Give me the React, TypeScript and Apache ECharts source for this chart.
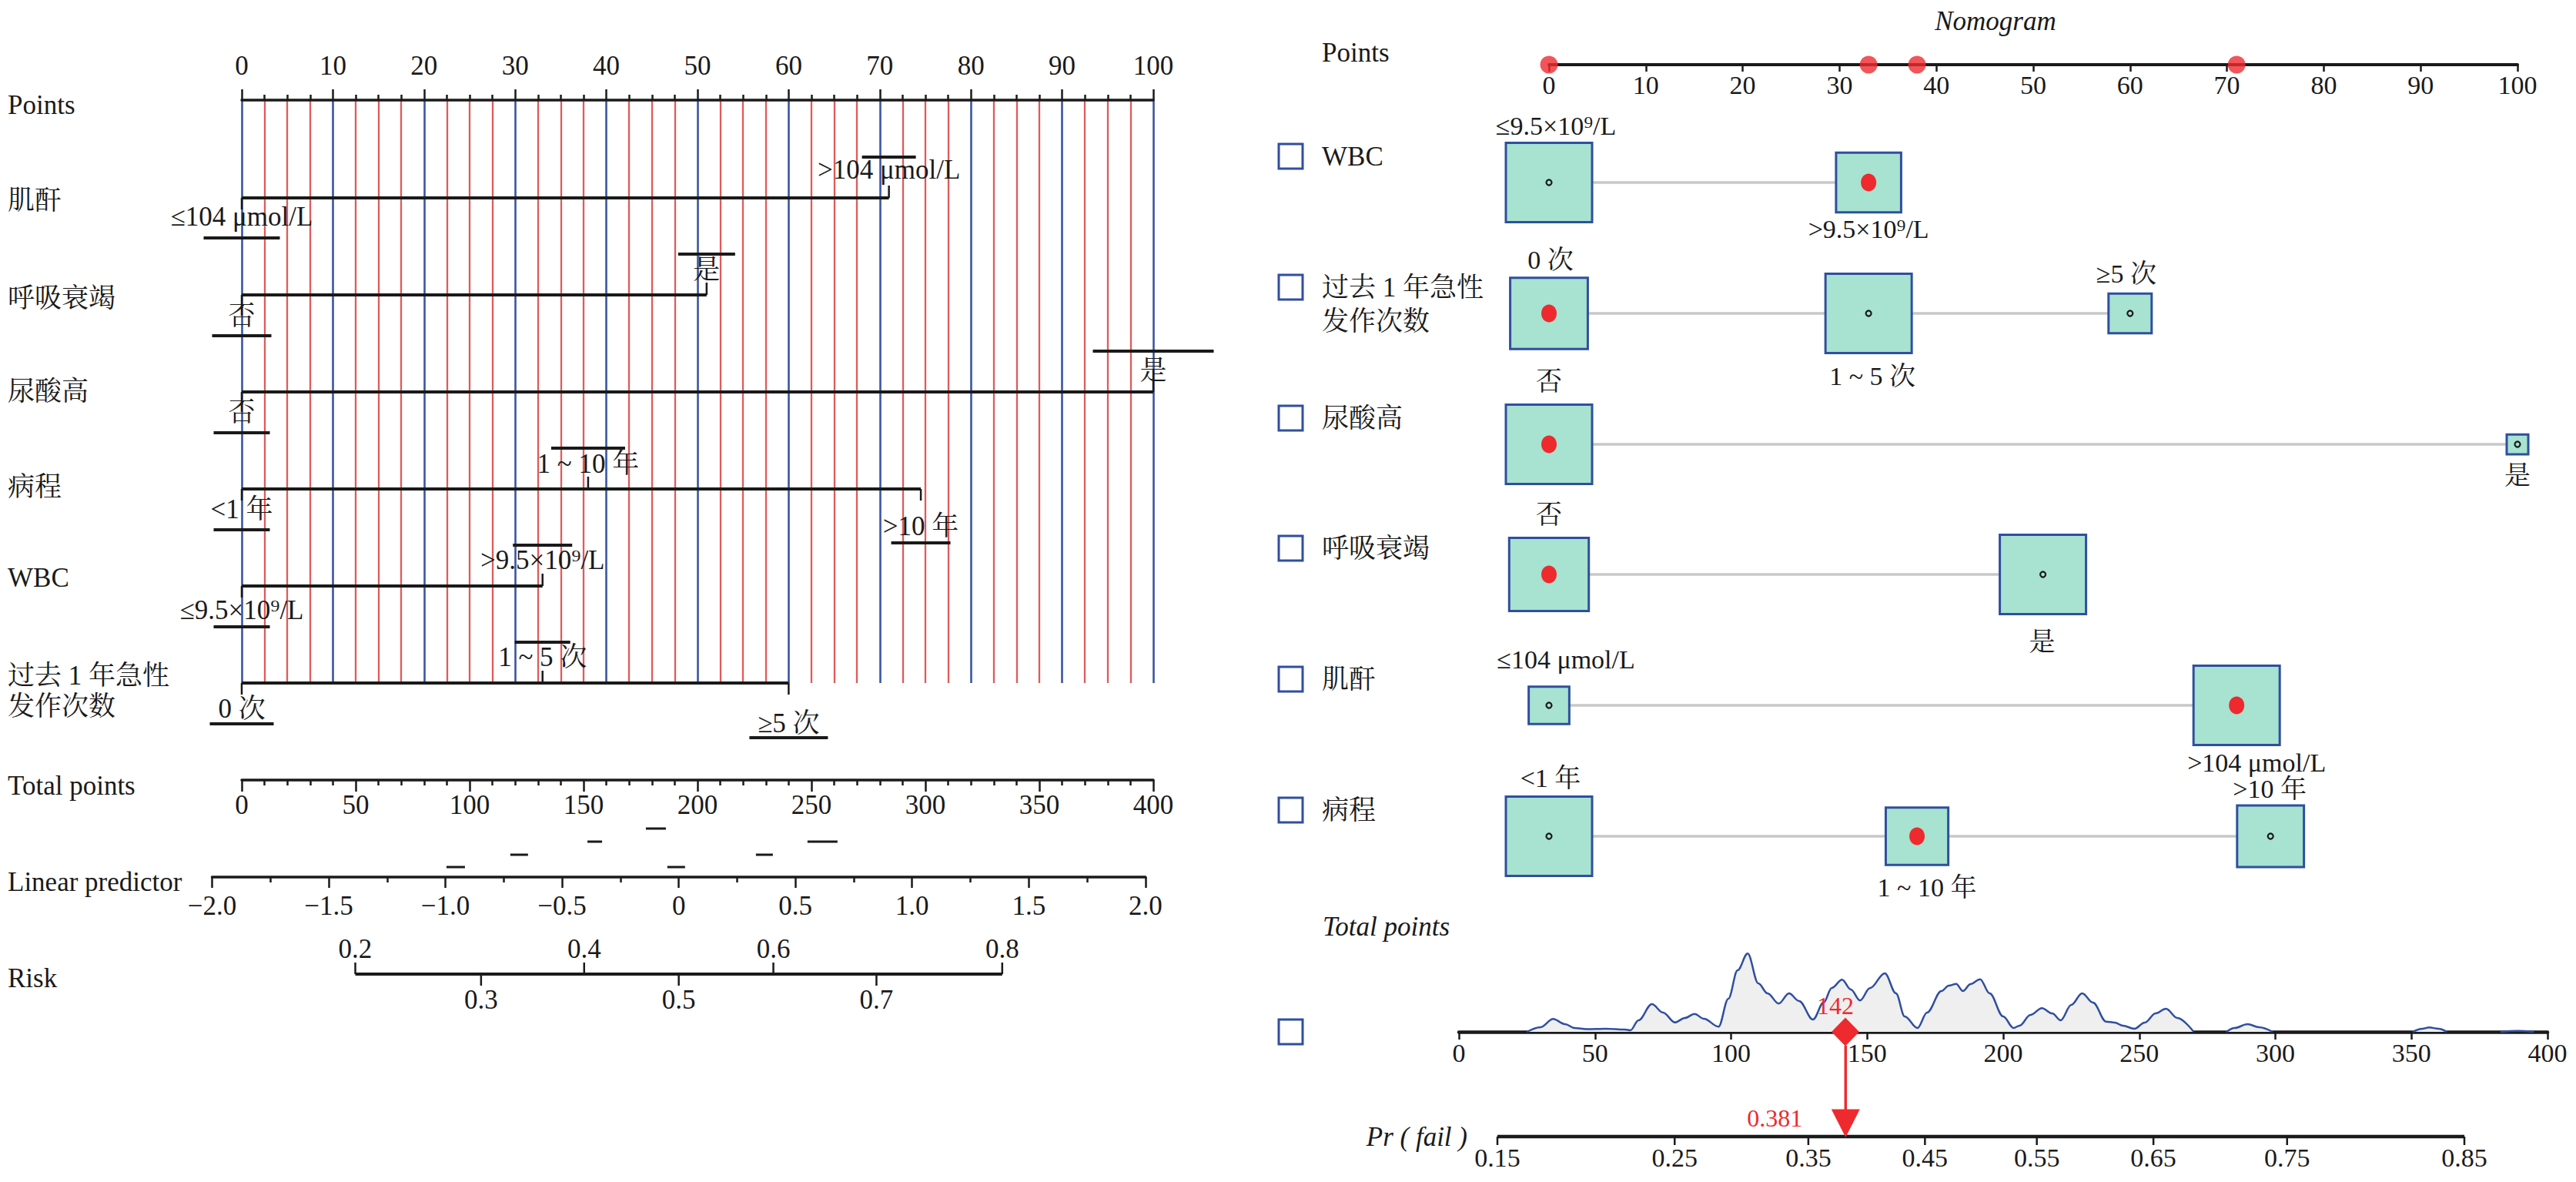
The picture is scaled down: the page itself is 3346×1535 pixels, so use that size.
import React, { useEffect, useRef } from 'react';
import * as echarts from 'echarts';

const FONT = '"Liberation Serif", "Times New Roman", "Noto Serif CJK SC", "Noto Sans CJK SC", serif';
const INK = '#1a1a1a';
const BLUE_GRID = '#3a55a0';
const RED_GRID = '#e05a5a';
const BOX_FILL = '#a8e2d0';
const BOX_STROKE = '#2f4f9e';
const RED = '#ee2a2f';
const GRAY_LINE = '#c8c8c8';

// ---------------- data ----------------
const creatLevels = ['≤104 μmol/L', '>104 μmol/L'];
const creatPoints = [0, 71];
const creatFreq = [32, 68];

const respLevels = ['否', '是'];
const respPoints = [0, 51];
const respFreq = [48, 52];

const uricLevels = ['否', '是'];
const uricPoints = [0, 100];
const uricFreq = [80, 20];

const courseLevels = ['<1 年', '1 ~ 10 年', '>10 年'];
const coursePoints = [0, 38, 74.5];
const courseFreq = [40, 29, 31];

const wbcLevels = ['≤9.5×10⁹/L', '>9.5×10⁹/L'];
const wbcPoints = [0, 33];
const wbcFreq = [57, 43];

const aeLevels = ['0 次', '1 ~ 5 次', '≥5 次'];
const aePoints = [0, 33, 60];
const aeFreq = [36, 40, 20];

// patient's selected level index per variable
const selWbc = 1;
const selAe = 0;
const selUric = 0;
const selResp = 0;
const selCreat = 1;
const selCourse = 1;

const selectedTotal = 142;
const selectedRisk = 0.381;

const riskTicksUp = [0.2, 0.4, 0.6, 0.8];
const riskTicksDown = [0.3, 0.5, 0.7];
const prTicks = [0.15, 0.25, 0.35, 0.45, 0.55, 0.65, 0.75, 0.85];

// density of total points (x: total points, y: relative height)
const density1 = [
  [25, 0], [30, 6], [34.6, 16.7], [39, 10], [42.5, 5], [47, 3.5], [54, 4], [61, 3], [63, 2],
  [66, 15], [70.9, 36], [75, 25], [79.4, 12.3], [83, 18], [86.6, 23.3], [90, 17], [95.4, 6.7],
  [99, 43], [102.4, 80], [106.1, 101.7], [110, 63], [113.4, 50], [117.5, 36.7], [121.3, 50],
  [125, 40], [130.1, 16], [134, 38], [137, 57], [140.8, 67.7], [144, 55], [147.4, 40.7],
  [151, 56.7], [156.5, 76], [160.6, 50], [163.8, 20], [168.5, 5], [172, 25], [177.3, 53],
  [180, 60], [182.7, 62.3], [185.2, 53], [188, 62], [191.5, 68.3], [195, 50], [200, 20],
  [203.8, 5], [206, 8], [210, 22], [214.2, 30.7], [218, 24], [221.1, 15], [225, 35], [229, 50],
  [233, 38], [237.8, 13.3], [241, 12], [244, 8], [248.2, 4], [252, 12], [256, 24], [259.8, 30],
  [264, 18], [270, 0],
];
const density2 = [[282, 0], [285, 5], [289.8, 10], [294, 6], [299, 0]];
const density3 = [[350.5, 0], [354, 4], [356.5, 5.7], [360, 4], [363, 0]];
const density4 = [[382.7, 0], [389, 1.3], [395, 0]];

// stray dashes above the linear predictor axis (LP units)
const lpDashCenters = [-0.098, -0.36, 0.616, -0.684, 0.367, -0.956, -0.011];
const lpDashWidths = [26, 19, 39, 23, 22, 24, 23];
const lpDashY = [1076, 1093, 1093, 1110, 1110, 1126, 1126];

// ---------------- tables ----------------
const leftRows = [
  { name: '肌酐', levels: creatLevels, points: creatPoints },
  { name: '呼吸衰竭', levels: respLevels, points: respPoints },
  { name: '尿酸高', levels: uricLevels, points: uricPoints },
  { name: '病程', levels: courseLevels, points: coursePoints },
  { name: 'WBC', levels: wbcLevels, points: wbcPoints },
  { name: '过去 1 年急性\n发作次数', levels: aeLevels, points: aePoints },
];
const rightRows = [
  { name: 'WBC', levels: wbcLevels, points: wbcPoints, freq: wbcFreq, sel: selWbc },
  { name: '过去 1 年急性\n发作次数', levels: aeLevels, points: aePoints, freq: aeFreq, sel: selAe },
  { name: '尿酸高', levels: uricLevels, points: uricPoints, freq: uricFreq, sel: selUric },
  { name: '呼吸衰竭', levels: respLevels, points: respPoints, freq: respFreq, sel: selResp },
  { name: '肌酐', levels: creatLevels, points: creatPoints, freq: creatFreq, sel: selCreat },
  { name: '病程', levels: courseLevels, points: coursePoints, freq: courseFreq, sel: selCourse },
];
const selectedPoints = Array.from(new Set(rightRows.map((r) => r.points[r.sel]))).sort((a, b) => a - b);

// ---------------- layout ----------------
const leftRowY = [257, 383, 509, 635, 761, 887];
const leftNameY = [260, 387, 508, 632, 750, 897];
const leftLabelDy = [[24, -37], [27, -33], [26, -28], [26, -33, 48], [31, -34], [33, -34, 52]];
const leftSegDy = [[52, -53], [53, -53], [53, -53], [53, -53, 70], [53, -53], [53, -53, 71]];
const leftSegW = [[99, 70], [77, 74], [73, 157], [73, 96, 77], [73, 77], [83, 72, 102]];
const rightRowY = [237, 407, 577, 746, 916, 1086];
const rightLabelDy = [[-74, 60], [-70, 81, -52], [-82, 40], [-78, 87], [-60, 74], [-76, 66, -62]];
const rightLabelDx = [[9, 0], [2, 5, -5], [0, 0], [0, -1], [22, 26], [2, 13, -1]];
const BOX_W = 112;
const BOX_H = 103;
const FS = 35;

const logit = (p: number) => Math.log(p / (1 - p));

function txt(x: number, y: number, text: string, o: any = {}) {
  return {
    type: 'text',
    x,
    y,
    style: {
      text,
      fill: o.fill || INK,
      fontSize: o.fontSize || FS,
      fontFamily: FONT,
      fontStyle: o.italic ? 'italic' : 'normal',
      align: o.align || 'center',
      verticalAlign: o.va || 'middle',
      lineHeight: o.lineHeight,
    },
  };
}
function seg(x1: number, y1: number, x2: number, y2: number, stroke = INK, lineWidth = 3.5) {
  return { type: 'line', shape: { x1, y1, x2, y2 }, style: { stroke, lineWidth } };
}

function renderLeft(_p: any, api: any) {
  const ch: any[] = [];
  leftRows.forEach((row, i) => {
    const yv = leftRowY[i];
    const maxP = Math.max(...row.points);
    const [x0, y] = api.coord([0, yv]);
    const [x1] = api.coord([maxP, yv]);
    ch.push(seg(x0, y, x1, y, INK, 4));
    row.points.forEach((p, j) => {
      const [x] = api.coord([p, yv]);
      const above = j % 2 === 1;
      ch.push(seg(x, y, x, above ? y - 16 : y + 15, INK, 2.5));
      ch.push(txt(x, y + leftLabelDy[i][j], row.levels[j]));
      const w = leftSegW[i][j];
      ch.push(seg(x - w / 2, y + leftSegDy[i][j], x + w / 2, y + leftSegDy[i][j], INK, 4));
    });
  });
  return { type: 'group', children: ch };
}

function renderRisk(_p: any, api: any) {
  const ch: any[] = [];
  const yv = 1265;
  const [xa, y] = api.coord([logit(0.2), yv]);
  const [xb] = api.coord([logit(0.8), yv]);
  ch.push(seg(xa, y, xb, y, INK, 4));
  riskTicksUp.forEach((p) => {
    const [x] = api.coord([logit(p), yv]);
    ch.push(seg(x, y, x, y - 15, INK, 2.5));
    ch.push(txt(x, y - 33, String(p)));
  });
  riskTicksDown.forEach((p) => {
    const [x] = api.coord([logit(p), yv]);
    ch.push(seg(x, y, x, y + 15, INK, 2.5));
    ch.push(txt(x, y + 33, String(p)));
  });
  lpDashCenters.forEach((c, k) => {
    const [x, yy] = api.coord([c, lpDashY[k]]);
    ch.push(seg(x - lpDashWidths[k] / 2, yy, x + lpDashWidths[k] / 2, yy, INK, 3));
  });
  return { type: 'group', children: ch };
}

function renderRight(_p: any, api: any) {
  const ch: any[] = [];
  rightRows.forEach((row, i) => {
    const yv = rightRowY[i];
    const [xFirst, y] = api.coord([row.points[0], yv]);
    const [xLast] = api.coord([row.points[row.points.length - 1], yv]);
    const cy = y - 34;
    ch.push({ type: 'rect', shape: { x: 1661, y: cy - 16, width: 31, height: 32 }, style: { fill: 'none', stroke: BOX_STROKE, lineWidth: 3 } });
    ch.push(txt(1717, row.name.includes('\n') ? cy + 22 : cy, row.name, { align: 'left', lineHeight: 44 }));
    ch.push(seg(xFirst, y, xLast, y, GRAY_LINE, 3.5));
    const maxF = Math.max(...row.freq);
    row.points.forEach((p, j) => {
      const [x] = api.coord([p, yv]);
      const w = (BOX_W * row.freq[j]) / maxF;
      const h = (BOX_H * row.freq[j]) / maxF;
      ch.push({ type: 'rect', shape: { x: x - w / 2, y: y - h / 2, width: w, height: h }, style: { fill: BOX_FILL, stroke: BOX_STROKE, lineWidth: 3 } });
      if (j === row.sel) {
        ch.push({ type: 'ellipse', shape: { cx: x, cy: y, rx: 10, ry: 11.5 }, style: { fill: RED } });
      } else {
        ch.push({ type: 'circle', shape: { cx: x, cy: y, r: 3.5 }, style: { fill: 'none', stroke: INK, lineWidth: 2.2 } });
      }
      ch.push(txt(x + rightLabelDx[i][j], y + rightLabelDy[i][j], row.levels[j], { fontSize: 34 }));
    });
  });
  // checkbox for total points row
  ch.push({ type: 'rect', shape: { x: 1661, y: 1324, width: 31, height: 32 }, style: { fill: 'none', stroke: BOX_STROKE, lineWidth: 3 } });
  return { type: 'group', children: ch };
}

function renderDiamond(_p: any, api: any) {
  const [x, y] = api.coord([selectedTotal, 0]);
  return {
    type: 'group',
    children: [
      { type: 'polygon', shape: { points: [[x, y - 18.5], [x + 18, y], [x, y + 18.5], [x - 18, y]] }, style: { fill: RED } },
      txt(x - 13, y - 34, String(selectedTotal), { fill: RED, fontSize: 32 }),
    ],
  };
}

function renderPr(_p: any, api: any) {
  const ch: any[] = [];
  const yv = 1476;
  const [xa, y] = api.coord([logit(prTicks[0]), yv]);
  const [xb] = api.coord([logit(prTicks[prTicks.length - 1]), yv]);
  ch.push(seg(xa, y, xb, y, INK, 4.5));
  prTicks.forEach((p) => {
    const [x] = api.coord([logit(p), yv]);
    ch.push(seg(x, y, x, y + 11, INK, 2.5));
    ch.push(txt(x, y + 27, p.toFixed(2), { fontSize: 34 }));
  });
  const [xr] = api.coord([logit(selectedRisk), yv]);
  ch.push(seg(xr, 1358, xr, 1442, RED, 3.5));
  ch.push({ type: 'polygon', shape: { points: [[xr - 18.5, 1440.5], [xr + 18.5, 1440.5], [xr, y + 1]] }, style: { fill: RED } });
  ch.push(txt(xr - 56, 1452, selectedRisk.toFixed(3), { fill: RED, fontSize: 32, align: 'right' }));
  ch.push(txt(1906, y, 'Pr ( fail )', { italic: true, align: 'right' }));
  return { type: 'group', children: ch };
}

const hiddenX = (gridIndex: number, min: number, max: number) => ({ gridIndex, type: 'value', min, max, show: false });
const pixelY = (gridIndex: number) => ({ gridIndex, type: 'value', min: 0, max: 1535, inverse: true, show: false });
const labelStyle = (fontSize = FS, margin = 10) => ({ fontSize, fontFamily: FONT, color: INK, margin, showMinLabel: true, showMaxLabel: true });

export default function App() {
  const ref = useRef<HTMLDivElement>(null);
  useEffect(() => {
    document.body.style.margin = '0';
    if (!ref.current) return;
    const chart = echarts.init(ref.current, null, { renderer: 'svg' });
    const grids = [
      { left: 314, top: 0, width: 1184, height: 1535 }, // 0 left points (pixel y)
      { left: 314, top: 130, width: 1184, height: 757 }, // 1 top points axis + grid lines
      { left: 314, top: 1003, width: 1184, height: 10 }, // 2 total points axis
      { left: 275.5, top: 1129, width: 1212.3, height: 10 }, // 3 linear predictor axis
      { left: 275.5, top: 0, width: 1212.3, height: 1535 }, // 4 LP pixel grid (risk)
      { left: 2012, top: 0, width: 1258, height: 1535 }, // 5 right points (pixel y)
      { left: 2012, top: 74, width: 1258, height: 10 }, // 6 right points axis
      { left: 1895, top: 1230, width: 1414, height: 110 }, // 7 density
      { left: 1945, top: 0, width: 1256, height: 1535 }, // 8 Pr(fail) logit grid
    ].map((g) => ({ ...g, outerBoundsMode: 'none', containLabel: false, show: false }));

    const option: any = {
      animation: false,
      grid: grids,
      xAxis: [
        hiddenX(0, 0, 100),
        {
          gridIndex: 1, type: 'value', position: 'top', min: 0, max: 100, interval: 10,
          axisLine: { show: true, onZero: false, lineStyle: { color: INK, width: 3.5 } },
          axisTick: { show: true, length: 14, lineStyle: { color: INK, width: 2.5 } },
          minorTick: { show: true, splitNumber: 4, length: 7, lineStyle: { color: INK, width: 2.5 } },
          axisLabel: labelStyle(FS, 27),
          splitLine: { show: true, lineStyle: { color: BLUE_GRID, width: 2.6 } },
          minorSplitLine: { show: true, lineStyle: { color: RED_GRID, width: 2.3 } },
        },
        {
          gridIndex: 2, type: 'value', position: 'bottom', min: 0, max: 400, interval: 50,
          axisLine: { show: true, onZero: false, lineStyle: { color: INK, width: 3.5 } },
          axisTick: { show: true, length: 15, lineStyle: { color: INK, width: 2.5 } },
          minorTick: { show: true, splitNumber: 5, length: 7, lineStyle: { color: INK, width: 2.5 } },
          axisLabel: labelStyle(FS, 15),
          splitLine: { show: false },
        },
        {
          gridIndex: 3, type: 'value', position: 'bottom', min: -2, max: 2, interval: 0.5,
          axisLine: { show: true, onZero: false, lineStyle: { color: INK, width: 3.5 } },
          axisTick: { show: true, length: 14, lineStyle: { color: INK, width: 2.5 } },
          minorTick: { show: true, splitNumber: 2, length: 7, lineStyle: { color: INK, width: 2.5 } },
          axisLabel: { ...labelStyle(FS, 20), formatter: (v: number) => (v === 0 ? '0' : (v < 0 ? '−' : '') + Math.abs(v).toFixed(1)) },
          splitLine: { show: false },
        },
        hiddenX(4, -2, 2),
        hiddenX(5, 0, 100),
        {
          gridIndex: 6, type: 'value', position: 'bottom', min: 0, max: 100, interval: 10,
          axisLine: { show: true, onZero: false, lineStyle: { color: INK, width: 4 } },
          axisTick: { show: true, length: 9, lineStyle: { color: INK, width: 2.5 } },
          axisLabel: labelStyle(34, 9),
          splitLine: { show: false },
        },
        {
          gridIndex: 7, type: 'value', position: 'bottom', min: 0, max: 400, interval: 50,
          axisLine: { show: true, onZero: false, lineStyle: { color: INK, width: 4.5 } },
          axisTick: { show: true, length: 10, lineStyle: { color: INK, width: 2.5 } },
          axisLabel: labelStyle(34, 10),
          splitLine: { show: false },
        },
        hiddenX(8, logit(0.15), logit(0.85)),
      ],
      yAxis: [
        pixelY(0),
        { gridIndex: 1, type: 'value', min: 0, max: 1, show: false },
        { gridIndex: 2, type: 'value', min: 0, max: 1, show: false },
        { gridIndex: 3, type: 'value', min: 0, max: 1, show: false },
        pixelY(4),
        pixelY(5),
        { gridIndex: 6, type: 'value', min: 0, max: 1, show: false },
        { gridIndex: 7, type: 'value', min: 0, max: 110, show: false },
        pixelY(8),
      ],
      graphic: [
        ...[
          ['Points', 136],
          ...leftRows.map((r, i) => [r.name, leftNameY[i]]),
          ['Total points', 1020],
          ['Linear predictor', 1145],
          ['Risk', 1270],
        ].map(([t, y]) => ({
          type: 'text', x: 10, y: y as number,
          style: { text: t as string, fill: INK, fontSize: FS, fontFamily: FONT, align: 'left', verticalAlign: 'middle', lineHeight: 40 },
        })),
        { type: 'text', x: 1717, y: 68, style: { text: 'Points', fill: INK, fontSize: FS, fontFamily: FONT, align: 'left', verticalAlign: 'middle' } },
        { type: 'text', x: 2592, y: 27, style: { text: 'Nomogram', fill: INK, fontSize: FS, fontFamily: FONT, fontStyle: 'italic', align: 'center', verticalAlign: 'middle' } },
        { type: 'text', x: 1718, y: 1203, style: { text: 'Total points', fill: INK, fontSize: FS, fontFamily: FONT, fontStyle: 'italic', align: 'left', verticalAlign: 'middle' } },
      ],
      series: [
        { type: 'custom', xAxisIndex: 0, yAxisIndex: 0, data: [[0, 0]], renderItem: renderLeft, silent: true, z: 5 },
        { type: 'custom', xAxisIndex: 4, yAxisIndex: 4, data: [[0, 0]], renderItem: renderRisk, silent: true, z: 5 },
        { type: 'custom', xAxisIndex: 5, yAxisIndex: 5, data: [[0, 0]], renderItem: renderRight, silent: true, z: 5 },
        {
          type: 'scatter', xAxisIndex: 6, yAxisIndex: 6, data: selectedPoints.map((p) => [p, 0]),
          symbol: 'circle', symbolSize: 23, itemStyle: { color: RED }, clip: false, silent: true, z: 10,
        },
        ...[density1, density2, density3, density4].map((d) => ({
          type: 'line', xAxisIndex: 7, yAxisIndex: 7, data: d, smooth: 0.35, smoothMonotone: 'x',
          showSymbol: false, symbol: 'none', silent: true, z: 3,
          lineStyle: { color: BOX_STROKE, width: 2.5 },
          areaStyle: { color: '#efefef', opacity: 1 },
        })),
        { type: 'custom', xAxisIndex: 7, yAxisIndex: 7, data: [[0, 0]], renderItem: renderDiamond, silent: true, z: 10 },
        { type: 'custom', xAxisIndex: 8, yAxisIndex: 8, data: [[0, 0]], renderItem: renderPr, silent: true, z: 10 },
      ],
    };
    chart.setOption(option);
    return () => chart.dispose();
  }, []);
  return <div ref={ref} style={{ width: 3346, height: 1535 }} />;
}
